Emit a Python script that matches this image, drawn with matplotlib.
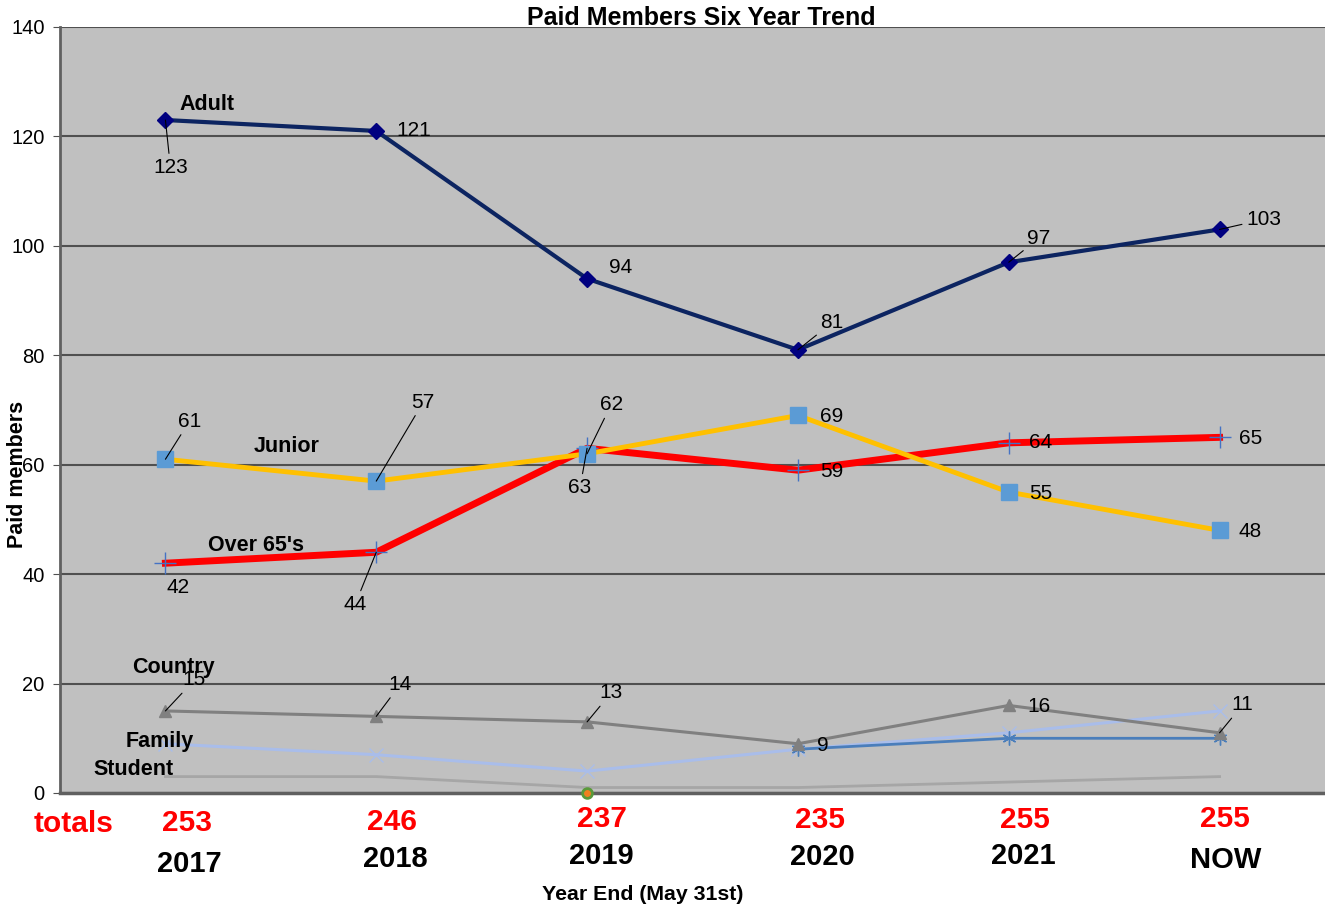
import numpy as np
import matplotlib
matplotlib.use('Agg')
import matplotlib.pyplot as plt

plt.rcParams['font.family'] = ['Liberation Sans', 'DejaVu Sans']

# data
years = ['2017', '2018', '2019', '2020', '2021', 'NOW']
adult = [123, 121, 94, 81, 97, 103]
junior = [61, 57, 62, 69, 55, 48]
over65 = [42, 44, 63, 59, 64, 65]
country = [15, 14, 13, 9, 16, 11]
family = [9, 7, 4, 8, 11, 15]
student = [3, 3, 1, 1, 2, 3]
other = [np.nan, np.nan, np.nan, 8, 10, 10]
misc = [np.nan, np.nan, 0, np.nan, np.nan, np.nan]

x = np.arange(len(years)) + 0.5

fig = plt.figure(figsize=(13.25, 9.14), dpi=100)
ax = fig.add_axes([60 / 1325, 1 - 793 / 914, 1265 / 1325, 766 / 914])
ax.set_facecolor('#C0C0C0')

# lines
ax.plot(x, student, color='#A6A6A6', lw=2)
ax.plot(x, family, color='#A9BDEA', lw=2.2, marker='x', ms=10, mew=1)
ax.plot(x, other, color='#4A7EBB', lw=2, marker=(6, 2, 0), ms=10, mew=1)
ax.plot(x, country, color='#808080', lw=2.2, marker='^', ms=8)
ax.plot(x, over65, color='#FF0000', lw=5, marker='+', ms=16, mew=1,
        mec='#4472C4')
ax.plot(x, junior, color='#FFC000', lw=3.5, marker='s', ms=11,
        mfc='#5B9BD5', mec='#5B9BD5')
ax.plot(x, adult, color='#0C2461', lw=3, marker='D', ms=8,
        mfc='#000080', mec='#000080')
ax.plot(x, misc, ls='none', marker='o', ms=7, mfc='#F08020', mec='#5A9A3A',
        mew=2, clip_on=False, zorder=5)

ax.set_xlim(0, 6)
ax.set_ylim(0, 140)
ax.set_yticks(np.arange(0, 141, 20))
ax.tick_params(axis='y', labelsize=14.5, length=5, color='#505050', pad=6)
ax.set_xticks([])
ax.yaxis.grid(True, color='#505050', lw=1.5)
ax.set_axisbelow(True)
for s in ['top', 'right']:
    ax.spines[s].set_visible(False)
ax.spines['left'].set_color('#606060')
ax.spines['bottom'].set_color('#606060')
ax.spines['left'].set_linewidth(2)
ax.spines['bottom'].set_linewidth(2.5)

fig.text(18 / 1325, 1 - 474 / 914, 'Paid members', rotation=90, ha='center', va='center',
         fontsize=15.5, fontweight='bold')

# data labels (offsets in pixels, leader flag)
label_offsets = {
    'adult': [(5, -47, 1), (38, 0, 0), (34, 11, 0), (34, 27, 1), (30, 24, 1), (44, 10, 1)],
    'junior': [(24, 38, 1), (47, 79, 1), (24, 49, 1), (34, -1, 0), (32, -1, 0), (31, -1, 0)],
    'over65': [(13, -24, 0), (-21, -52, 1), (-7, -39, 1), (34, -1, 0), (32, 0, 0), (31, -1, 0)],
    'country': [(29, 31, 1), (24, 32, 1), (24, 29, 1), (25, -2, 0), (30, -1, 0), (23, 28, 1)],
}
series = {'adult': adult, 'junior': junior, 'over65': over65, 'country': country}
for key, vals in series.items():
    for i, v in enumerate(vals):
        dx, dy, lead = label_offsets[key][i]
        ap = None
        if lead:
            ap = dict(arrowstyle='-', color='black', lw=0.8, shrinkA=1, shrinkB=0)
        ax.annotate(str(v), xy=(x[i], v), xytext=(dx, dy), textcoords='offset pixels',
                    ha='center', va='center', fontsize=15, arrowprops=ap)

# series names
names = [('Adult', adult, (42, 16)), ('Junior', junior, (121, 13)),
         ("Over 65's", over65, (91, 18)), ('Country', country, (8, 43)),
         ('Family', family, (-6, 2)), ('Student', student, (-32, 7))]
for name, vals, off in names:
    ax.annotate(name, xy=(x[0], vals[0]), xytext=off, textcoords='offset pixels',
                ha='center', va='center', fontsize=15.5, fontweight='bold')

# totals and year labels under axis
totals = np.nansum(np.array([adult, junior, over65, country, family, student, other]), axis=0)
tot_off = [(22, -30), (16, -29), (15, -26), (22, -27), (16, -27), (5, -26)]
year_off = [(24, -71), (19, -66), (14, -63), (24, -64), (15, -63), (6, -67)]
for i in range(len(years)):
    ax.annotate(str(int(totals[i])), xy=(x[i], 0), xycoords=('data', 'axes fraction'),
                xytext=tot_off[i], textcoords='offset pixels', ha='center', va='center',
                fontsize=21.5, fontweight='bold', color='#FF0000', annotation_clip=False)
    ax.annotate(years[i], xy=(x[i], 0), xycoords=('data', 'axes fraction'),
                xytext=year_off[i], textcoords='offset pixels', ha='center', va='center',
                fontsize=21, fontweight='bold', color='black', annotation_clip=False)

fig.text(74 / 1325, 1 - 824 / 914, 'totals', ha='center', va='center',
         fontsize=21.5, fontweight='bold', color='#FF0000')
fig.text(643 / 1325, 1 - 895 / 914, 'Year End (May 31st)', ha='center', va='center',
         fontsize=15.3, fontweight='bold')
fig.text(701 / 1325, 1 - 18 / 914, 'Paid Members Six Year Trend', ha='center', va='center',
         fontsize=18, fontweight='bold')

fig.savefig('out.png', dpi=100)
